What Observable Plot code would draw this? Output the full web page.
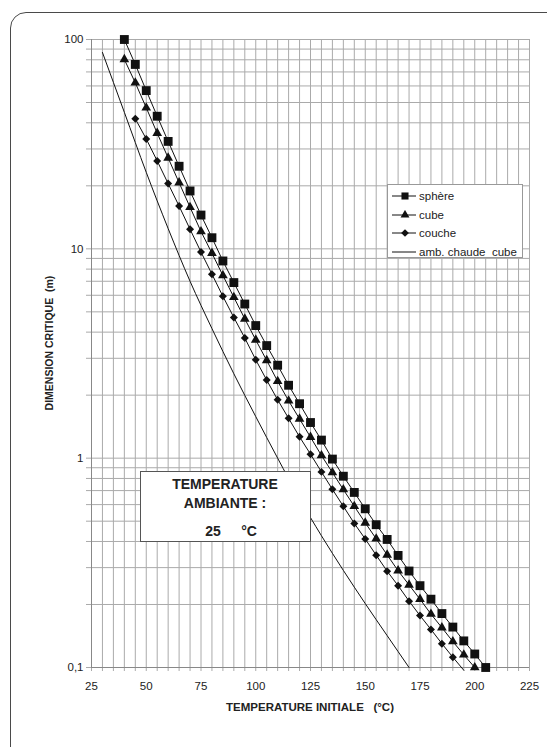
<!DOCTYPE html>
<html><head><meta charset="utf-8">
<script src="https://cdn.jsdelivr.net/npm/d3@7"></script>
<script src="https://cdn.jsdelivr.net/npm/@observablehq/plot@0.6"></script>
<style>
html,body{margin:0;padding:0;background:#fff;}
#wrap{position:relative;width:547px;height:747px;overflow:hidden;font-family:"Liberation Sans",Arial,sans-serif;color:#222;}
#border{position:absolute;left:10px;top:12px;width:620px;height:820px;border:1.5px solid #4a4a4a;border-radius:16px;box-sizing:border-box;}
#chart{position:absolute;left:0;top:0;}
#legend{position:absolute;left:387px;top:184px;width:136px;height:74px;background:#fff;border:1px solid #999;box-sizing:border-box;}
.lrow{position:absolute;left:0;height:16px;font-size:11.5px;white-space:pre;line-height:16px;}
.lrow svg{position:absolute;left:3px;top:3px;}
.lrow span{position:absolute;left:31px;top:0;}
#box{position:absolute;left:140px;top:471px;width:171px;height:71px;background:#fff;border:1px solid #555;box-sizing:border-box;font-weight:bold;font-size:14px;}
#box div{position:absolute;white-space:pre;line-height:16px;transform:translateX(-50%);}
#xtitle{position:absolute;left:310px;top:701px;transform:translateX(-50%);font-weight:bold;font-size:11.5px;white-space:pre;}
#ytitle{position:absolute;left:49px;top:343px;transform:translate(-50%,-50%) rotate(-90deg);font-weight:bold;font-size:10.5px;white-space:pre;}
</style>
</head>
<body>
<div id="wrap">
  <div id="border"></div>
  <div id="chart"></div>
  <div id="legend"></div>
  <div id="box"></div>
  <div id="xtitle"></div>
  <div id="ytitle"></div>
</div>
<script>
// ---- data ----
const sphereT = [40,45,50,55,60,65,70,75,80,85,90,95,100,105,110,115,120,125,130,135,140,145,150,155,160,165,170,175,180,185,190,195,200,205];
const sphereD = [100,76,57,43,32.6,24.8,18.9,14.5,11.3,8.75,6.9,5.45,4.3,3.45,2.78,2.23,1.82,1.48,1.22,0.99,0.82,0.686,0.573,0.481,0.409,0.343,0.289,0.246,0.212,0.181,0.156,0.134,0.116,0.1];
const cubeT = [40,45,50,55,60,65,70,75,80,85,90,95,100,105,110,115,120,125,130,135,140,145,150,155,160,165,170,175,180,185,190,195,200];
const cubeD = [80.3,62.1,47.2,35.7,27.2,20.7,15.8,12.1,9.53,7.46,5.87,4.63,3.67,2.93,2.33,1.88,1.54,1.26,1.03,0.854,0.708,0.589,0.491,0.412,0.345,0.29,0.248,0.212,0.18,0.155,0.133,0.115,0.1];
const coucheT = [45,50,55,60,65,70,75,80,85,90,95,100,105,110,115,120,125,130,135,140,145,150,155,160,165,170,175,180,185,190,195];
const coucheD = [41.8,33.5,26.3,20.5,16.0,12.4,9.65,7.57,5.93,4.70,3.75,2.95,2.36,1.90,1.55,1.264,1.045,0.86,0.71,0.589,0.488,0.411,0.344,0.2885,0.246,0.2075,0.177,0.152,0.130,0.112,0.097];
const chaudeT = [30,40,50,60,70,80,90,100,110,120,130,140,150,160,170];
const chaudeD = [86.7,44.9,23.2,12.5,7.0,4.16,2.53,1.58,1.0,0.64,0.426,0.291,0.202,0.142,0.1];

const seriesNames = ["sphère","cube","couche","amb. chaude  cube"];
const xTickValues = [25,50,75,100,125,150,175,200,225];
const xGridValues = [25,30,35,40,45,50,55,60,65,70,75,80,85,90,95,100,105,110,115,120,125,130,135,140,145,150,155,160,165,170,175,180,185,190,195,200,205,210,215,220,225];
const yTickValues = [0.1,1,10,100];
const yTickLabels = ["0,1","1","10","100"];
const yGridValues = [0.1,0.2,0.3,0.4,0.5,0.6,0.7,0.8,0.9,1,2,3,4,5,6,7,8,9,10,20,30,40,50,60,70,80,90,100];
const xTitle = "TEMPERATURE INITIALE   (°C)";
const yTitle = "DIMENSION CRITIQUE  (m)";
const boxLines = ["TEMPERATURE","AMBIANTE :"];
const ambientValue = "25";
const ambientUnit = "°C";

const rows = (T, D) => T.map((t, i) => ({t, d: D[i]}));
const sphere = rows(sphereT, sphereD);
const cube = rows(cubeT, cubeD);
const couche = rows(coucheT, coucheD);
const chaude = rows(chaudeT, chaudeD);
const inRange = r => r.d >= 0.1;

const gridColor = "#aaaaaa";
const symR = {square: 5, triangle: 3.6, diamond2: 3.6};

const plot = Plot.plot({
  width: 547, height: 747,
  marginLeft: 91, marginRight: 18, marginTop: 39, marginBottom: 80,
  x: {domain: [25, 225], label: null},
  y: {type: "log", domain: [0.1, 100], label: null},
  style: {fontFamily: '"Liberation Sans", Arial, sans-serif', fontSize: "11.5px", color: "#222", background: "transparent"},
  marks: [
    Plot.gridX(xGridValues, {stroke: gridColor, strokeOpacity: 1}),
    Plot.gridY(yGridValues, {stroke: gridColor, strokeOpacity: 1}),
    Plot.axisX(xGridValues, {tickSize: 4, tickFormat: () => "", stroke: gridColor, strokeOpacity: 1}),
    Plot.axisX(xTickValues, {tickSize: 0, tickPadding: 14, fill: "#222"}),
    Plot.axisY(yGridValues, {tickSize: 5, tickFormat: () => "", stroke: gridColor, strokeOpacity: 1}),
    Plot.axisY(yTickValues, {tickSize: 0, tickPadding: 8, fill: "#222", tickFormat: d => yTickLabels[yTickValues.indexOf(d)]}),
    Plot.ruleX([25], {stroke: "#888"}),
    Plot.ruleY([0.1], {stroke: "#888"}),
    Plot.line(chaude, {x: "t", y: "d", stroke: "#111", strokeWidth: 1, curve: "monotone-x"}),
    Plot.line(couche, {x: "t", y: "d", stroke: "#111", strokeWidth: 1}),
    Plot.line(cube, {x: "t", y: "d", stroke: "#111", strokeWidth: 1}),
    Plot.line(sphere, {x: "t", y: "d", stroke: "#111", strokeWidth: 1}),
    Plot.dot(couche.filter(inRange), {x: "t", y: "d", symbol: "diamond2", r: symR.diamond2, fill: "#111", stroke: "none"}),
    Plot.dot(cube.filter(inRange), {x: "t", y: "d", symbol: "triangle", r: symR.triangle, fill: "#111", stroke: "none"}),
    Plot.dot(sphere.filter(inRange), {x: "t", y: "d", symbol: "square", r: symR.square, fill: "#111", stroke: "none"})
  ]
});
document.getElementById("chart").appendChild(plot);

// legend
const legend = document.getElementById("legend");
const legSyms = [d3.symbolSquare, d3.symbolTriangle, d3.symbolDiamond2, null];
const legSizes = [50, 34, 38, 0];
seriesNames.forEach((name, i) => {
  const row = document.createElement("div");
  row.className = "lrow";
  row.style.top = (3 + i * 18.7) + "px";
  let svg = `<svg width="26" height="10" viewBox="0 0 26 10"><line x1="1" x2="25" y1="5" y2="5" stroke="#111" stroke-width="1"/>`;
  if (legSyms[i]) svg += `<path transform="translate(14,5)" d="${d3.symbol(legSyms[i], legSizes[i])()}" fill="#111"/>`;
  svg += `</svg>`;
  row.innerHTML = svg + `<span></span>`;
  row.querySelector("span").textContent = name;
  legend.appendChild(row);
});

// annotation box
const box = document.getElementById("box");
const place = (txt, cx, top) => {
  const d = document.createElement("div");
  d.textContent = txt; d.style.left = cx + "px"; d.style.top = top + "px";
  box.appendChild(d);
};
place(boxLines[0], 84, 4);
place(boxLines[1], 84, 23);
place(ambientValue, 72, 51);
place(ambientUnit, 108, 51);

document.getElementById("xtitle").textContent = xTitle;
document.getElementById("ytitle").textContent = yTitle;
</script>
</body></html>
